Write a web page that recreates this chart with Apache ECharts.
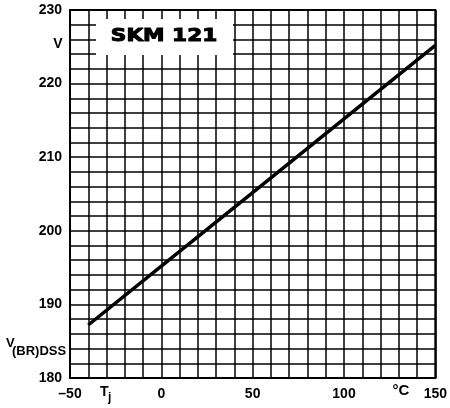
<!DOCTYPE html>
<html>
<head>
<meta charset="utf-8">
<script src="https://cdn.jsdelivr.net/npm/echarts@6/dist/echarts.min.js"></script>
<style>html,body{margin:0;padding:0;background:#fff;}#c{width:450px;height:408px;}</style>
</head>
<body>
<div id="c"></div>
<script>
// Data
var tempC = [-40, 0, 50, 100, 150];
var vbrdss = [187.2, 195.2, 205.2, 215.2, 225.2];
var xTickLabels = [-50, 0, 50, 100, 150];
var yTickLabels = [180, 190, 200, 210, 220, 230];
var title = 'SKM 121';

var chart = echarts.init(document.getElementById('c'), null, {renderer: 'canvas'});
var font = '"Liberation Sans", Arial, sans-serif';
var lbl = {color: '#000', fontWeight: 'bold', fontSize: 14, fontFamily: font};

var option = {
  animation: false,
  backgroundColor: '#fff',
  grid: {left: 70, right: 10, top: 10, bottom: 30, show: true, borderColor: '#000', borderWidth: 2, backgroundColor: 'transparent'},
  xAxis: {
    type: 'value', min: -50, max: 150, interval: 10,
    axisLine: {show: true, onZero: false, lineStyle: {color: '#000', width: 2}},
    axisTick: {show: false},
    splitLine: {show: true, lineStyle: {color: '#000', width: 1.5}},
    axisLabel: Object.assign({margin: 9, formatter: function (v) { return xTickLabels.indexOf(v) >= 0 ? String(v).replace('-', '\u2013') : ''; }}, lbl)
  },
  yAxis: {
    type: 'value', min: 180, max: 230, interval: 2,
    axisLine: {show: true, onZero: false, lineStyle: {color: '#000', width: 2}},
    axisTick: {show: false},
    splitLine: {show: true, lineStyle: {color: '#000', width: 1.5}},
    axisLabel: Object.assign({margin: 8, formatter: function (v) { return yTickLabels.indexOf(v) >= 0 ? String(v) : ''; }}, lbl)
  },
  series: [{
    type: 'line',
    data: tempC.map(function (t, i) { return [t, vbrdss[i]]; }),
    showSymbol: false,
    lineStyle: {color: '#000', width: 3.5},
    z: 5
  }],
  graphic: [
    {type: 'rect', z: 100, shape: {x: 96, y: 19, width: 137, height: 36}, style: {fill: '#fff'}},
    {type: 'text', z: 101, x: 164, y: 37, scaleX: 1.27, style: {text: title, fill: '#000', stroke: '#000', lineWidth: 1, font: 'bold 17px "DejaVu Sans", sans-serif', textAlign: 'center', textVerticalAlign: 'middle'}},
    {type: 'text', z: 101, x: 58, y: 44, style: {text: 'V', fill: '#000', font: 'bold 14px ' + font, textAlign: 'center', textVerticalAlign: 'middle'}},
    {type: 'text', z: 101, x: 6, y: 343, style: {text: 'V', fill: '#000', font: 'bold 13px ' + font, textAlign: 'left', textVerticalAlign: 'middle'}},
    {type: 'text', z: 101, x: 12, y: 351, style: {text: '(BR)DSS', fill: '#000', font: 'bold 13px ' + font, textAlign: 'left', textVerticalAlign: 'middle'}},
    {type: 'text', z: 101, x: 100, y: 392, style: {text: 'T', fill: '#000', font: 'bold 14px ' + font, textAlign: 'left', textVerticalAlign: 'middle'}},
    {type: 'text', z: 101, x: 108, y: 398, style: {text: 'j', fill: '#000', font: 'bold 12px ' + font, textAlign: 'left', textVerticalAlign: 'middle'}},
    {type: 'text', z: 101, x: 401, y: 391, style: {text: '\u00b0C', fill: '#000', font: 'bold 15px ' + font, textAlign: 'center', textVerticalAlign: 'middle'}}
  ]
};
chart.setOption(option);
</script>
</body>
</html>
